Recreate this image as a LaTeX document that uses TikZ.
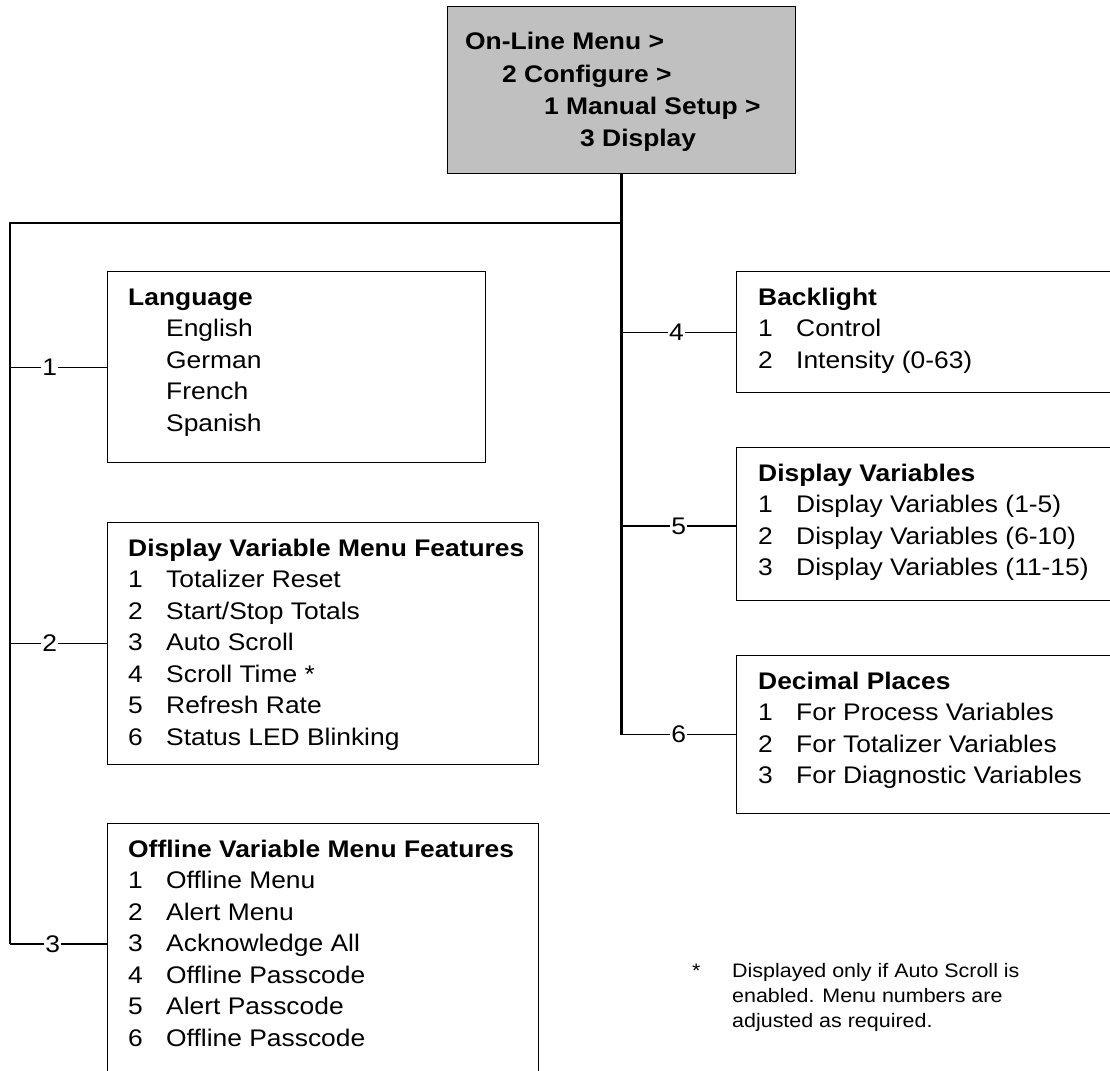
\documentclass[tikz,border=0pt]{standalone}
\usepackage{fontspec}
\setmainfont{Liberation Sans}[FakeStretch=1.1]
\definecolor{boxgray}{HTML}{C0C0C0}
\newcommand\mainsize{\fontsize{24}{31.5}\selectfont}
\newcommand\notesize{\fontsize{19.5}{25.4}\selectfont}
\newcommand\hd[1]{\multicolumn{2}{@{}l@{}}{\bfseries #1}}
\begin{document}
\begin{tikzpicture}[x=1pt,y=-1pt,
  box/.style={draw, line width=1.1pt, inner sep=0pt, anchor=north west},
  txt/.style={inner sep=0pt, anchor=base west, font=\mainsize},
  trunk/.style={line width=2.2pt},
  branch/.style={line width=1.1pt},
  lbl/.style={fill=white, inner sep=1.2pt, font=\mainsize}]
\useasboundingbox (0,0) rectangle (1110,1070);
\clip (0,0) rectangle (1110,1070);

% top box
\node[box, fill=boxgray, minimum width=348pt, minimum height=167pt] (top) at (447,6) {};
\node[txt, font=\fontsize{24}{32.3}\selectfont\bfseries] (topT) at (465,50) {\begin{tabular}[t]{@{}l@{}}On-Line Menu >\\\hspace{37pt}2 Configure >\\\hspace{79pt}1 Manual Setup >\\\hspace{115pt}3 Display\end{tabular}};

% left boxes
\node[box, minimum width=378pt, minimum height=191pt] (lang) at (107,271) {};
\node[txt] (langT) at (128,305) {\begin{tabular}[t]{@{}p{38pt}@{}l@{}}\hd{Language}\\ & English\\ & German\\ & French\\ & Spanish\end{tabular}};

\node[box, minimum width=431pt, minimum height=242pt] (dvmf) at (107,522) {};
\node[txt] (dvmfT) at (128,556) {\begin{tabular}[t]{@{}p{38pt}@{}l@{}}\hd{Display Variable Menu Features}\\ 1 & Totalizer Reset\\ 2 & Start/Stop Totals\\ 3 & Auto Scroll\\ 4 & Scroll Time *\\ 5 & Refresh Rate\\ 6 & Status LED Blinking\end{tabular}};

\node[box, minimum width=431pt, minimum height=270pt] (off) at (107,823) {};
\node[txt] (offT) at (128,857) {\begin{tabular}[t]{@{}p{38pt}@{}l@{}}\hd{Offline Variable Menu Features}\\ 1 & Offline Menu\\ 2 & Alert Menu\\ 3 & Acknowledge All\\ 4 & Offline Passcode\\ 5 & Alert Passcode\\ 6 & Offline Passcode\end{tabular}};

% right boxes
\node[box, minimum width=400pt, minimum height=121pt] (back) at (736,271) {};
\node[txt] (backT) at (758,305) {\begin{tabular}[t]{@{}p{38pt}@{}l@{}}\hd{Backlight}\\ 1 & Control\\ 2 & Intensity (0-63)\end{tabular}};

\node[box, minimum width=400pt, minimum height=153pt] (dvar) at (736,447) {};
\node[txt] (dvarT) at (758,481) {\begin{tabular}[t]{@{}p{38pt}@{}l@{}}\hd{Display Variables}\\ 1 & Display Variables (1-5)\\ 2 & Display Variables (6-10)\\ 3 & Display Variables (11-15)\end{tabular}};

\node[box, minimum width=400pt, minimum height=158pt] (dec) at (736,655) {};
\node[txt] (decT) at (758,689) {\begin{tabular}[t]{@{}p{38pt}@{}l@{}}\hd{Decimal Places}\\ 1 & For Process Variables\\ 2 & For Totalizer Variables\\ 3 & For Diagnostic Variables\end{tabular}};

% footnote
\node[txt, font=\notesize] (star) at (692,977) {*};
\node[txt, font=\notesize] (note) at (732,977) {\begin{tabular}[t]{@{}l@{}}Displayed only if Auto Scroll is\\enabled. Menu numbers are\\adjusted as required.\end{tabular}};

% trunks
\coordinate (j) at (top.south |- 0,223);
\coordinate (lt) at (10,223);
\coordinate (b3) at (10,944);
\coordinate (b5) at (10,526);
\draw[trunk] (top.south) -- (top.south |- dec.west);
\draw[trunk] (j) -- (lt) -- (b3);

% branches
\draw[branch] (lang.west -| lt) -- node[lbl, pos=0.41]{1} (lang.west);
\draw[branch] (dvmf.west -| lt) -- node[lbl, pos=0.41]{2} (dvmf.west);
\draw[branch] (b3) -- node[lbl, pos=0.44]{3} (off.west |- b3);
\draw[branch] (back.west -| j) -- node[lbl, pos=0.48]{4} (back.west);
\draw[branch] (j |- b5) -- node[lbl, pos=0.5]{5} (dvar.west |- b5);
\draw[branch] (dec.west -| j) -- node[lbl, pos=0.5]{6} (dec.west);
\end{tikzpicture}
\end{document}
